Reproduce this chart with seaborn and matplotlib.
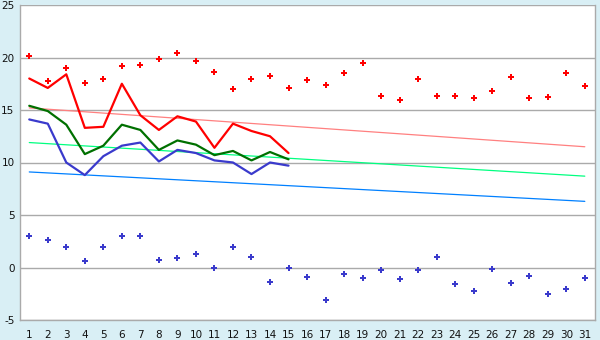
import matplotlib
matplotlib.use("Agg")
import matplotlib.pyplot as plt
import seaborn as sns
import pandas as pd

days = list(range(1, 32))
tick_labels = [str(d) for d in days]
days_obs = list(range(1, 16))

max_actual = [18.0, 17.1, 18.4, 13.3, 13.4, 17.5, 14.5, 13.1, 14.4, 13.9, 11.4, 13.7, 13.0, 12.5, 10.9]
mean_actual = [15.4, 14.9, 13.6, 10.8, 11.6, 13.6, 13.1, 11.2, 12.1, 11.7, 10.7, 11.1, 10.2, 11.0, 10.3]
min_actual = [14.1, 13.7, 10.0, 8.8, 10.6, 11.6, 11.9, 10.1, 11.2, 10.9, 10.2, 10.0, 8.9, 10.0, 9.7]

record_max = [20.1, 17.8, 19.0, 17.6, 18.0, 19.2, 19.3, 19.9, 20.4, 19.7, 18.6, 17.0, 18.0, 18.2, 17.1,
              17.9, 17.4, 18.5, 19.5, 16.3, 16.0, 18.0, 16.3, 16.3, 16.1, 16.8, 18.1, 16.1, 16.2, 18.5, 17.3]
record_min = [3.0, 2.6, 2.0, 0.6, 2.0, 3.0, 3.0, 0.7, 0.9, 1.3, 0.0, 2.0, 1.0, -1.4, 0.0,
              -0.9, -3.1, -0.6, -1.0, -0.2, -1.1, -0.2, 1.0, -1.6, -2.2, -0.1, -1.5, -0.8, -2.5, -2.0, -1.0]

normal_days = [1, 31]
normal_max = [15.2, 11.5]
normal_mean = [11.9, 8.7]
normal_min = [9.1, 6.3]

y_ticks = [-5, 0, 5, 10, 15, 20, 25]

sns.set_style("white")
plt.rcParams['font.family'] = ['DejaVu Sans']

fig = plt.figure(figsize=(6, 3.4), dpi=100)
fig.patch.set_facecolor("#d9eff5")
ax = fig.add_axes([20/600, 1 - 320/340, 575/600, 315/340])
ax.set_facecolor("white")

grid_c = "#aaaaaa"
for yv in y_ticks:
    ax.axhline(yv, color=grid_c, lw=1.0, zorder=0)

df_norm = pd.DataFrame({"day": normal_days, "max": normal_max, "mean": normal_mean, "min": normal_min})
sns.lineplot(data=df_norm, x="day", y="max", ax=ax, color="#ff8080", lw=0.9, zorder=2)
sns.lineplot(data=df_norm, x="day", y="mean", ax=ax, color="#00ff80", lw=0.9, zorder=2)
sns.lineplot(data=df_norm, x="day", y="min", ax=ax, color="#0080ff", lw=0.9, zorder=2)

df_obs = pd.DataFrame({"day": days_obs, "max": max_actual, "mean": mean_actual, "min": min_actual})
sns.lineplot(data=df_obs, x="day", y="max", ax=ax, color="#ff0000", lw=1.6, zorder=3)
sns.lineplot(data=df_obs, x="day", y="mean", ax=ax, color="#007000", lw=1.6, zorder=3)
sns.lineplot(data=df_obs, x="day", y="min", ax=ax, color="#3a3acc", lw=1.6, zorder=3)

df_rec = pd.DataFrame({"day": days, "rmax": record_max, "rmin": record_min})
sns.scatterplot(data=df_rec, x="day", y="rmax", ax=ax, color="#ff0000", marker="P", s=22,
                linewidth=0, zorder=4)
sns.scatterplot(data=df_rec, x="day", y="rmin", ax=ax, color="#3a3acc", marker="P", s=16,
                linewidth=0, zorder=4)

ax.set_xlim(0.5, 31.55)
ax.set_ylim(-5, 25)
ax.set_xticks(days)
ax.set_xticklabels(tick_labels)
ax.set_yticks(y_ticks)
ax.set_yticklabels([str(v) for v in y_ticks])
ax.set_xlabel("")
ax.set_ylabel("")
ax.tick_params(axis="both", which="both", direction="out", width=1, color="#333333",
               labelsize=7.5, labelcolor="#111111")
ax.tick_params(axis="y", length=3, pad=1)
ax.tick_params(axis="x", length=4, pad=3)
for side in ["left", "bottom", "right"]:
    ax.spines[side].set_visible(True)
    ax.spines[side].set_color(grid_c)
    ax.spines[side].set_linewidth(1.0)
ax.spines["top"].set_visible(False)

fig.savefig("out.png", dpi=100, facecolor=fig.get_facecolor())
